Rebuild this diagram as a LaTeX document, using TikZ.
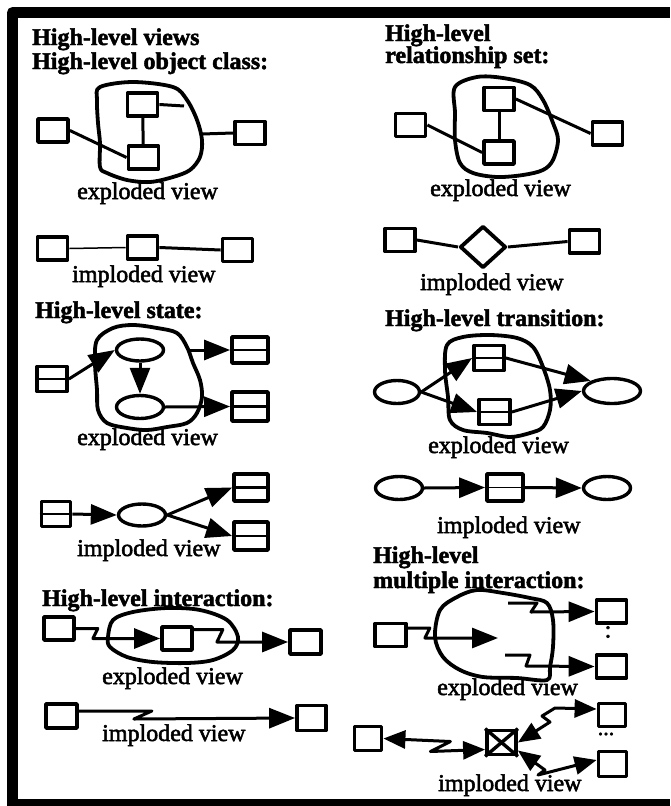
\documentclass[tikz,border=0pt]{standalone}
\usepackage{fontspec}
\setmainfont{Liberation Serif}
\newfontfamily\lblfont[FakeBold=2.2]{Liberation Serif}
\newfontfamily\ttlfont[FakeBold=2.0]{Liberation Serif}
\usetikzlibrary{arrows.meta,shapes.geometric}
\begin{document}
\begin{tikzpicture}[x=1pt,y=-1pt, line join=round,
 box/.style={draw, line width=3.8pt, rectangle, inner sep=0pt, minimum width=30pt, minimum height=23pt},
 oval/.style={draw, line width=3.4pt, ellipse, inner sep=0pt, minimum width=47pt, minimum height=22pt},
 link/.style={line width=3pt},
 thinlink/.style={line width=1.5pt},
 divline/.style={line width=2.8pt},
 arr/.style={line width=3pt, -{Triangle[length=26pt,width=20pt]}},
 darr/.style={line width=3pt, {Triangle[length=22pt,width=18pt]}-{Triangle[length=22pt,width=18pt]}},
 blob/.style={line width=3.8pt},
 ttl/.style={font=\ttlfont\bfseries\fontsize{24}{28}\selectfont, anchor=base west, inner sep=0pt},
 lbl/.style={font=\lblfont\fontsize{24}{28}\selectfont, anchor=base west, inner sep=0pt},
]
\useasboundingbox (0,0) rectangle (670,806);
\fill[white] (0,0) rectangle (670,806);
% frame
\draw[line width=11pt] (12.5,806) -- (12.5,12.5) -- (670,12.5);
\draw[line width=7pt] (7,802.5) -- (670,802.5);

% ---------- Panel 1: object class ----------
\node[ttl] (t1a) at (32,45) {High-level views};
\node[ttl] (t1b) at (32,69) {High-level object class:};
\node[box] (a1L) at (53,130.5) {};
\node[box] (a1T) at (142.5,104.5) {};
\node[box] (a1B) at (143.5,157.5) {};
\node[box] (a1R) at (250,133) {};
\draw[blob] plot[smooth cycle, tension=0.55] coordinates {(100,87) (133,82) (173,87) (187,100) (197,120) (202,140) (200,157) (190,170) (173,177) (150,182) (127,180) (107,173) (100,167) (100,143) (98,123) (97,100)};
\coordinate (c1a) at (184,106);
\coordinate (c1b) at (202,134);
\draw[link] (a1L.east) -- (a1B.west);
\draw[link] (a1T) -- (a1B);
\draw[link] (a1T.east) -- (c1a);
\draw[link] (c1b) -- (a1R.west);
\node[lbl] (x1) at (77,199) {exploded view};
\node[box] (b1L) at (52.5,248.5) {};
\node[box] (b1M) at (142.5,247.5) {};
\node[box] (b1R) at (237.5,250) {};
\draw[thinlink] (b1L.east) -- (b1M.west);
\draw[link] (b1M.east) -- (b1R.west);
\node[lbl] (i1) at (72,282) {imploded view};

% ---------- Panel 2: relationship set ----------
\node[ttl] (t2a) at (385,41) {High-level};
\node[ttl] (t2b) at (385,63) {relationship set:};
\node[box] (a2L) at (410.5,125) {};
\node[box] (a2T) at (499,99) {};
\node[box] (a2B) at (499,152.5) {};
\node[box] (a2R) at (607.5,133.5) {};
\draw[blob] plot[smooth cycle, tension=0.55] coordinates {(455,87) (477,77) (503,78) (530,85) (543,100) (553,123) (558,140) (553,160) (543,170) (523,175) (497,177) (473,173) (460,163) (455,140) (455,113)};
\draw[link] (a2L.east) -- (a2B.west);
\draw[link] (a2T) -- (a2B);
\draw[link] (a2T.east) -- (a2R.west);
\node[lbl] (x2) at (430,196) {exploded view};
\node[box] (b2L) at (400,240) {};
\node[draw, diamond, line width=3.8pt, inner sep=0pt, minimum width=46pt, minimum height=42pt] (d2) at (483,247) {};
\node[box] (b2R) at (584.5,241.5) {};
\draw[link] (b2L.east) -- (d2.west);
\draw[link] (d2.east) -- (b2R.west);
\node[lbl] (i2) at (420,290) {imploded view};

% ---------- Panel 3: state ----------
\node[ttl] (t3) at (35,318) {High-level state:};
\draw[blob] plot[smooth cycle, tension=0.55] coordinates {(97,340) (113,328) (133,325) (157,328) (177,333) (187,347) (193,363) (200,380) (202,397) (197,413) (187,423) (167,427) (147,430) (127,428) (107,423) (98,410) (97,390) (95,363)};
\node[oval] (e3T) at (140,350) {};
\node[oval, minimum height=23pt] (e3B) at (140,407) {};
\node[box, minimum height=25pt] (s3L) at (52,379) {};
\draw[divline] (s3L.west) -- (s3L.east);
\node[box, minimum width=36pt, minimum height=26pt] (s3R1) at (250,350) {};
\draw[divline] (s3R1.west) -- ([xshift=-3pt]s3R1.east);
\node[box, minimum width=36pt, minimum height=29pt] (s3R2) at (250,406.5) {};
\draw[divline] (s3R2.west) -- ([xshift=-3pt]s3R2.east);
\coordinate (c3a) at (189,350);
\draw[arr] (s3L.east) -- (e3T.west);
\draw[arr] (e3T.south) -- (e3B.north);
\draw[arr] (c3a) -- (s3R1.west);
\draw[arr] (e3B.east) -- (s3R2.west);
\node[lbl] (x3) at (77,445) {exploded view};
\node[box, minimum width=29pt, minimum height=25pt] (s4L) at (56,514) {};
\draw[divline] (s4L.west) -- (s4L.east);
\node[oval] (e4) at (142,515) {};
\node[box, minimum width=34pt, minimum height=27pt] (s4R1) at (251,487.5) {};
\draw[divline] (s4R1.west) -- ([xshift=-3pt]s4R1.east);
\node[box, minimum width=34pt, minimum height=28pt] (s4R2) at (251,536) {};
\draw[divline] (s4R2.west) -- ([xshift=-3pt]s4R2.east);
\draw[arr] (s4L.east) -- (e4.west);
\draw[arr] (e4.east) -- (s4R1.west);
\draw[arr] (e4.east) -- (s4R2.west);
\node[lbl] (i3) at (77,556) {imploded view};

% ---------- Panel 4: transition ----------
\node[ttl] (t4) at (385,326) {High-level transition:};
\draw[blob] plot[smooth cycle, tension=0.55] coordinates {(447,345) (463,337) (490,335) (517,338) (533,347) (543,367) (550,390) (550,410) (543,427) (530,433) (510,437) (487,433) (463,430) (450,420) (448,397) (445,370)};
\node[box, minimum height=25pt] (t4T) at (489,358) {};
\draw[divline] (t4T.west) -- (t4T.east);
\node[box, minimum width=31pt, minimum height=25pt] (t4B) at (494.5,412) {};
\draw[divline] (t4B.west) -- (t4B.east);
\node[oval, minimum width=45pt, minimum height=23pt] (e4L) at (397,392) {};
\node[oval, minimum width=57pt, minimum height=25pt] (e4R) at (612,391) {};
\draw[arr] (e4L.east) -- (t4T.west);
\draw[arr] (e4L.east) -- (t4B.west);
\draw[arr] (t4T.east) -- (e4R.north west);
\draw[arr] (t4B.east) -- (e4R.west);
\node[lbl] (x4) at (428,453) {exploded view};
\node[oval, minimum height=23pt] (e5L) at (399,488) {};
\node[box, minimum width=36pt, minimum height=27pt] (t5) at (505,487.5) {};
\draw[thinlink] ([xshift=3pt]t5.west) -- ([xshift=-3pt]t5.east);
\node[oval, minimum height=23pt] (e5R) at (607,488) {};
\draw[arr] (e5L.east) -- (t5.west);
\draw[arr] (t5.east) -- (e5R.west);
\node[lbl] (i4) at (437,533) {imploded view};

% ---------- Panel 5: interaction ----------
\node[ttl] (t5t) at (42,606) {High-level interaction:};
\draw[blob] plot[smooth cycle, tension=0.55] coordinates {(113,620) (133,612) (167,608) (200,610) (227,620) (238,637) (233,650) (213,660) (187,663) (153,662) (127,657) (110,647) (108,637)};
\node[box] (i5L) at (59,628.5) {};
\node[box] (i5M) at (177,638.5) {};
\node[box, minimum width=31pt, minimum height=24pt] (i5R) at (305.5,642) {};
\draw[arr] (i5L.east) -- ++(22,0) -- ++(-5,10) -- (i5M.west);
\draw[arr] ([yshift=9pt]i5M.east) -- ++(29,0) -- ++(-6,12.5) -- (i5R.west);
\node[lbl] (x5) at (102,684) {exploded view};
\node[box, minimum width=31pt, minimum height=24pt] (j5L) at (61.5,716) {};
\node[box, minimum width=29pt, minimum height=25pt] (j5R) at (311.5,718) {};
\draw[arr] ([yshift=5pt]j5L.east) -- ++(73,0) -- ++(-18,8) -- (j5R.west);
\node[lbl] (i5) at (102,741) {imploded view};

% ---------- Panel 6: multiple interaction ----------
\node[ttl] (t6a) at (373,563) {High-level};
\node[ttl] (t6b) at (373,588) {multiple interaction:};
\draw[blob] plot[smooth cycle, tension=0.55] coordinates {(440,610) (457,597) (477,590) (503,593) (530,598) (547,603) (553,620) (553,647) (550,667) (547,680) (517,678) (483,677) (460,670) (443,657) (435,637)};
\node[box, minimum width=31pt, minimum height=23pt] (m6L) at (390.5,635) {};
\node[box] (m6R1) at (611.5,611.5) {};
\node[box] (m6R2) at (611.5,666.5) {};
\node (colon) at (608,632) {\lblfont\fontsize{24}{28}\selectfont :};
\coordinate (m6in) at (498,638);
\coordinate (m6a) at (508,603);
\coordinate (m6b) at (505,655);
\draw[arr] ([yshift=7pt]m6L.east) -- ++(22,0) -- ++(-5,10) -- (m6in);
\draw[arr] (m6a) -- ++(29,0) -- ++(-6,9) -- (m6R1.west);
\draw[arr] (m6b) -- ++(25,0) -- ++(-4,11) -- (m6R2.west);
\node[lbl] (x6) at (437,695) {exploded view};
\node[box, minimum width=27pt, minimum height=24pt] (n6L) at (368,738.5) {};
\node[box, minimum width=29pt, minimum height=24pt] (n6X) at (501.5,742.5) {};
\draw[line width=3.4pt] (n6X.north west) -- (n6X.south east) (n6X.north east) -- (n6X.south west);
\node[box, minimum width=27pt, minimum height=23pt] (n6R1) at (612,715) {};
\node[box, minimum width=28pt, minimum height=25pt] (n6R2) at (612.5,764) {};
\node (dots) at (606,734) {\lblfont\fontsize{22}{24}\selectfont ...};
\draw[darr] (n6L.east) -- ++(67,3) -- ++(-20,10) -- ([yshift=-7pt]n6X.west);
\draw[darr] (n6X.east) -- (550,722) -- (542,716) -- (555,708) -- ([yshift=6pt]n6R1.west);
\draw[darr] ([yshift=-8pt]n6X.east) -- (545,770) -- (538,775) -- ([yshift=4pt]n6R2.west);
\node[lbl] (i6) at (438,791) {imploded view};
\end{tikzpicture}
\end{document}
